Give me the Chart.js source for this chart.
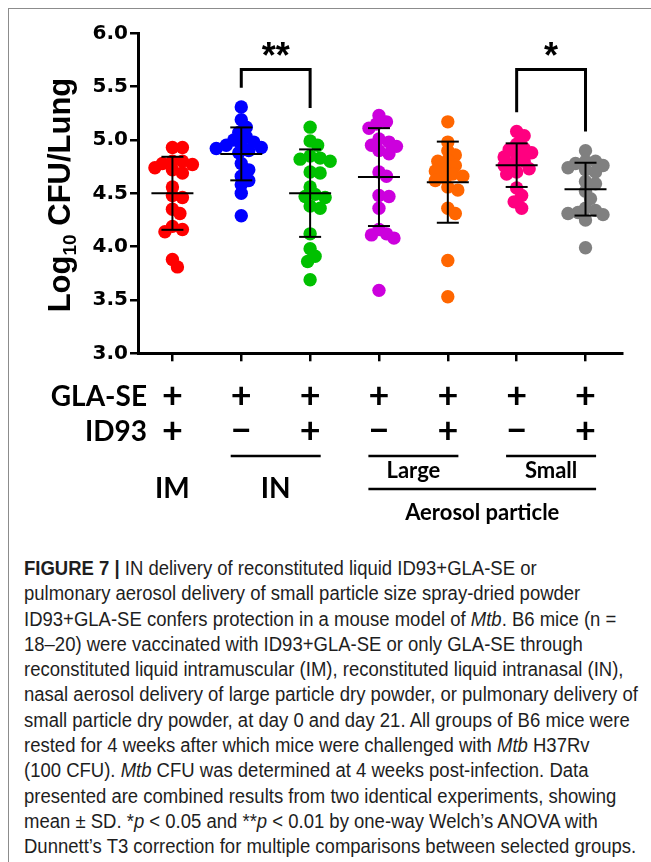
<!DOCTYPE html>
<html>
<head>
<meta charset="utf-8">
<script src="https://cdn.jsdelivr.net/npm/chart.js@4.4.1/dist/chart.umd.min.js"></script>
<style>
  html, body { margin: 0; padding: 0; background: #fff; }
  #page { position: relative; width: 651px; height: 862px; overflow: hidden; }
  #frame { position: absolute; left: 8px; top: 8px; width: 660px; height: 870px;
           border-top: 1.5px solid #8c8c8c; border-left: 1.5px solid #8c8c8c; }
  #chart { position: absolute; left: 0; top: 0; }
  #caption { position: absolute; left: 24px; top: 556px; font: 20px 'Liberation Sans', Arial, sans-serif;
             line-height: 25.3px; color: #1e1e1e; white-space: nowrap;
             transform: scaleX(0.925); transform-origin: 0 0; }
</style>
</head>
<body>
<div id="page">
  <div id="frame"></div>
  <canvas id="chart" width="651" height="545"></canvas>
  <div id="caption">
    <b>FIGURE 7 |</b> IN delivery of reconstituted liquid ID93+GLA-SE or<br>
    pulmonary aerosol delivery of small particle size spray-dried powder<br>
    ID93+GLA-SE confers protection in a mouse model of <i>Mtb</i>. B6 mice (n =<br>
    18–20) were vaccinated with ID93+GLA-SE or only GLA-SE through<br>
    reconstituted liquid intramuscular (IM), reconstituted liquid intranasal (IN),<br>
    nasal aerosol delivery of large particle dry powder, or pulmonary delivery of<br>
    small particle dry powder, at day 0 and day 21. All groups of B6 mice were<br>
    rested for 4 weeks after which mice were challenged with <i>Mtb</i> H37Rv<br>
    (100 CFU). <i>Mtb</i> CFU was determined at 4 weeks post-infection. Data<br>
    presented are combined results from two identical experiments, showing<br>
    mean ± SD. *<i>p</i> &lt; 0.05 and **<i>p</i> &lt; 0.01 by one-way Welch’s ANOVA with<br>
    Dunnett’s T3 correction for multiple comparisons between selected groups.
  </div>
</div>
<script>
// log10 CFU per lung, one array per group
const imCombo       = [4.93, 4.93, 4.80, 4.80, 4.78, 4.77, 4.74, 4.72, 4.69, 4.56, 4.48, 4.46, 4.35, 4.31, 4.19, 4.16, 4.14, 3.88, 3.81];
const inAdjuvant    = [5.31, 5.19, 5.12, 5.07, 5.03, 5.00, 4.98, 4.96, 4.95, 4.93, 4.92, 4.90, 4.88, 4.78, 4.72, 4.66, 4.62, 4.58, 4.50, 4.29];
const inCombo       = [5.12, 4.99, 4.95, 4.85, 4.83, 4.82, 4.80, 4.70, 4.69, 4.56, 4.49, 4.47, 4.46, 4.38, 4.36, 4.12, 3.98, 3.91, 3.86, 3.69];
const largeAdjuvant = [5.23, 5.17, 5.15, 5.11, 5.01, 4.98, 4.95, 4.94, 4.90, 4.87, 4.70, 4.66, 4.48, 4.47, 4.36, 4.16, 4.12, 4.11, 4.08, 3.59];
const largeCombo    = [5.17, 4.98, 4.90, 4.86, 4.81, 4.80, 4.76, 4.73, 4.71, 4.68, 4.66, 4.64, 4.62, 4.56, 4.53, 4.36, 4.31, 3.87, 3.53];
const smallAdjuvant = [5.08, 5.04, 4.96, 4.92, 4.91, 4.88, 4.86, 4.84, 4.80, 4.78, 4.76, 4.73, 4.70, 4.68, 4.55, 4.48, 4.42, 4.36];
const smallCombo    = [4.90, 4.80, 4.80, 4.78, 4.76, 4.74, 4.72, 4.70, 4.61, 4.59, 4.52, 4.45, 4.36, 4.34, 4.32, 4.31, 4.30, 4.25, 3.99];

const groupValues = [imCombo, inAdjuvant, inCombo, largeAdjuvant, largeCombo, smallAdjuvant, smallCombo];
const groupColors = ['#ff0000', '#0000ff', '#00c000', '#cc00dd', '#ff6600', '#ff0080', '#808080'];
const glaRow  = ['+', '+', '+', '+', '+', '+', '+'];
const id93Row = ['+', '−', '+', '−', '+', '−', '+'];
const yTicks  = [3.0, 3.5, 4.0, 4.5, 5.0, 5.5, 6.0];
const comparisons = [
  { a: 1, b: 2, label: '**' },
  { a: 5, b: 6, label: '*' }
];
const BRACKET_Y = 5.66;
const BRACKET_GAP = 0.18;

// layout
const W = 651, H = 545;
const AREA = { left: 138, top: 33.3, right: 622, bottom: 353.3 };
const X_MIN = -0.5, X_MAX = 6.53, Y_MIN = 3, Y_MAX = 6;
const PX_PER_X = (AREA.right - AREA.left) / (X_MAX - X_MIN);
const PX_PER_Y = (AREA.bottom - AREA.top) / (Y_MAX - Y_MIN);
const DOT_R = 6.7;

function mean(a) { return a.reduce((s, v) => s + v, 0) / a.length; }
function sd(a) {
  const m = mean(a);
  return Math.sqrt(a.reduce((s, v) => s + (v - m) ** 2, 0) / (a.length - 1));
}

// simple beeswarm so dots spread sideways instead of stacking
function swarmOffsets(values) {
  const order = values.map((v, i) => i).sort((a, b) => values[b] - values[a]);
  const placed = [];
  const offsets = [];
  order.forEach(i => {
    const py = values[i] * PX_PER_Y;
    let dx = 0;
    for (let k = 0; k < 40; k++) {
      const cand = (k % 2 ? 1 : -1) * Math.ceil(k / 2) * 2.5;
      if (placed.every(p => Math.hypot(p.x - cand, p.y - py) >= 8.5)) { dx = cand; break; }
    }
    placed.push({ x: dx, y: py });
    offsets[i] = dx / PX_PER_X;
  });
  return offsets;
}

const datasets = groupValues.map((vals, g) => {
  const offs = swarmOffsets(vals);
  return {
    data: vals.map((v, i) => ({ x: g + offs[i], y: v })),
    backgroundColor: groupColors[g],
    borderWidth: 0,
    pointRadius: DOT_R,
    pointHoverRadius: DOT_R
  };
});

function line(ctx, x1, y1, x2, y2) {
  ctx.beginPath(); ctx.moveTo(x1, y1); ctx.lineTo(x2, y2); ctx.stroke();
}
// draw text with its ink box centred on (cx, cy)
function centreText(ctx, text, cx, cy) {
  const m = ctx.measureText(text);
  const base = cy + (m.actualBoundingBoxAscent - m.actualBoundingBoxDescent) / 2;
  ctx.fillText(text, cx, base);
}
// same, but centre on cap height so descenders don't shift the line
function capText(ctx, text, cx, cy, align) {
  const cap = ctx.measureText('H').actualBoundingBoxAscent;
  ctx.textAlign = align || 'center';
  ctx.fillText(text, cx, cy + cap / 2);
}

const overlay = {
  id: 'overlay',
  afterDatasetsDraw(chart) {
    const { ctx, scales: { x, y } } = chart;
    ctx.save();
    ctx.strokeStyle = '#000';
    ctx.lineWidth = 2;
    groupValues.forEach((vals, g) => {
      const m = mean(vals), s = sd(vals);
      const cx = x.getPixelForValue(g);
      const yM = y.getPixelForValue(m), yT = y.getPixelForValue(m + s), yB = y.getPixelForValue(m - s);
      line(ctx, cx - 21, yM, cx + 21, yM);
      line(ctx, cx, yT, cx, yB);
      line(ctx, cx - 11, yT, cx + 11, yT);
      line(ctx, cx - 11, yB, cx + 11, yB);
    });

    ctx.lineWidth = 3;
    ctx.fillStyle = '#000';
    ctx.font = 'bold 36px "Liberation Sans", Arial, sans-serif';
    ctx.textAlign = 'center';
    comparisons.forEach(c => {
      const xa = x.getPixelForValue(c.a), xb = x.getPixelForValue(c.b);
      const top = y.getPixelForValue(BRACKET_Y);
      const ya = y.getPixelForValue(Math.max(...groupValues[c.a]) + BRACKET_GAP);
      const yb = y.getPixelForValue(Math.max(...groupValues[c.b]) + BRACKET_GAP);
      ctx.beginPath();
      ctx.moveTo(xa, ya); ctx.lineTo(xa, top); ctx.lineTo(xb, top); ctx.lineTo(xb, yb);
      ctx.stroke();
      centreText(ctx, c.label, (xa + xb) / 2, top - 21);
    });
    ctx.restore();
  },
  afterDraw(chart) {
    const { ctx, scales: { x } } = chart;
    ctx.save();
    ctx.fillStyle = '#000';

    // y axis title with subscript
    ctx.translate(70, 195);
    ctx.rotate(-Math.PI / 2);
    const big = 'bold 31px "Liberation Sans", Arial, sans-serif';
    const small = 'bold 19px "Liberation Sans", Arial, sans-serif';
    ctx.font = big;  const w1 = ctx.measureText('Log').width;
    ctx.font = small; const w2 = ctx.measureText('10').width;
    ctx.font = big;  const w3 = ctx.measureText(' CFU/Lung').width;
    let px = -(w1 + w2 + w3) / 2;
    ctx.textAlign = 'left';
    ctx.font = big;  ctx.fillText('Log', px, 0); px += w1;
    ctx.font = small; ctx.fillText('10', px, 6); px += w2;
    ctx.font = big;  ctx.fillText(' CFU/Lung', px, 0);
    ctx.setTransform(1, 0, 0, 1, 0, 0);

    // treatment rows
    const lbl = 'bold 28px Lato, sans-serif';
    const sign = 'bold 36px Lato, sans-serif';
    ctx.font = lbl;
    capText(ctx, 'GLA-SE', 147, 395, 'right');
    capText(ctx, 'ID93', 147, 430, 'right');
    ctx.font = sign;
    ctx.textAlign = 'center';
    glaRow.forEach((s, g) => centreText(ctx, s, x.getPixelForValue(g), 395));
    id93Row.forEach((s, g) => centreText(ctx, s, x.getPixelForValue(g), 430));

    // group rules and names
    ctx.strokeStyle = '#000';
    ctx.lineWidth = 2.5;
    const mid = (a, b) => (x.getPixelForValue(a) + x.getPixelForValue(b)) / 2;
    [[1, 2], [3, 4], [5, 6]].forEach(([a, b]) => line(ctx, mid(a, b) - 45, 456, mid(a, b) + 45, 456));
    line(ctx, mid(3, 4) - 45, 489, mid(5, 6) + 45, 489);

    ctx.font = lbl;
    capText(ctx, 'IM', x.getPixelForValue(0), 487);
    capText(ctx, 'IN', mid(1, 2), 487);
    ctx.font = 'bold 22px Lato, sans-serif';
    capText(ctx, 'Large', mid(3, 4), 469);
    capText(ctx, 'Small', mid(5, 6), 469);
    capText(ctx, 'Aerosol particle', mid(3, 6), 511);
    ctx.restore();
  }
};

new Chart(document.getElementById('chart'), {
  type: 'scatter',
  data: { datasets },
  plugins: [overlay],
  options: {
    responsive: false,
    animation: false,
    events: [],
    layout: { padding: { top: AREA.top, right: W - AREA.right, left: 0, bottom: 0 } },
    plugins: { legend: { display: false }, tooltip: { enabled: false } },
    scales: {
      x: {
        type: 'linear', min: X_MIN, max: X_MAX,
        afterBuildTicks: s => { s.ticks = glaRow.map((_, i) => ({ value: i })); },
        afterFit: s => { s.height = H - AREA.bottom; },
        border: { color: '#000', width: 3 },
        grid: { drawOnChartArea: false, drawTicks: true, tickLength: 8, color: '#000', lineWidth: 2.5 },
        ticks: { callback: () => '', padding: 0 }
      },
      y: {
        min: Y_MIN, max: Y_MAX,
        afterBuildTicks: s => { s.ticks = yTicks.map(v => ({ value: v })); },
        afterFit: s => { s.width = AREA.left; },
        border: { color: '#000', width: 3 },
        grid: { drawOnChartArea: false, drawTicks: true, tickLength: 8, color: '#000', lineWidth: 2.5 },
        ticks: {
          color: '#000', padding: 2,
          font: { family: 'DejaVu Sans', weight: 'bold', size: 20 },
          callback: v => Number(v).toFixed(1)
        }
      }
    }
  }
});
</script>
</body>
</html>
